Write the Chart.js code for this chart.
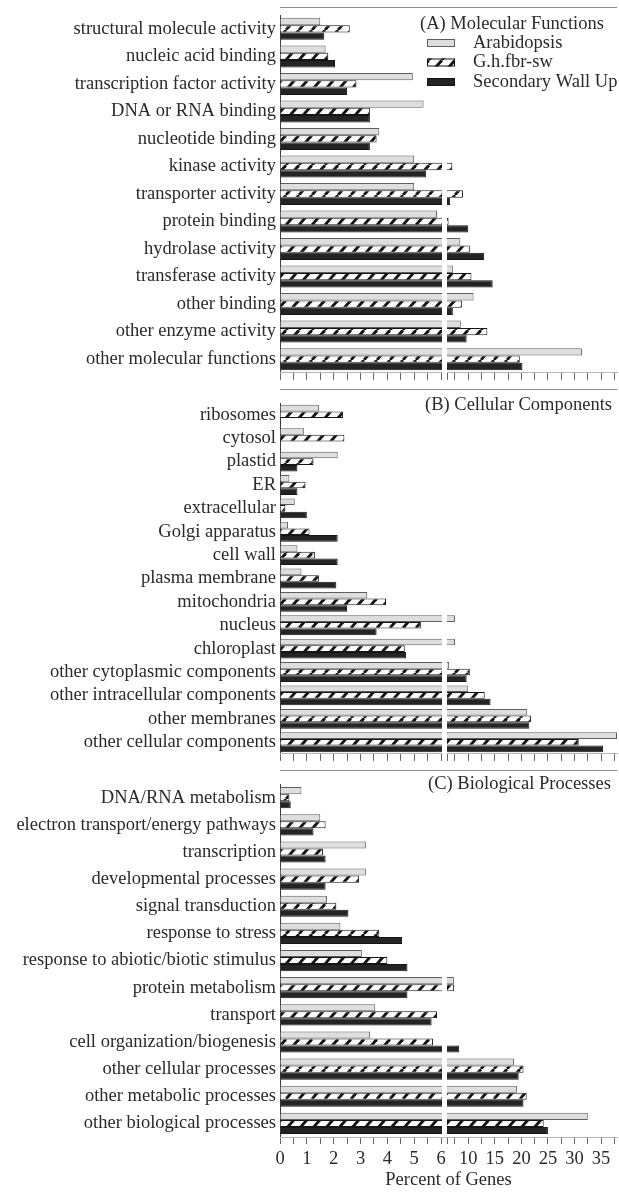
<!DOCTYPE html>
<html>
<head>
<meta charset="utf-8">
<script src="https://cdn.jsdelivr.net/npm/chart.js@4.4.1/dist/chart.umd.min.js"></script>
<style>
  html, body { margin: 0; padding: 0; background: #fff; }
  #wrap { position: relative; width: 619px; height: 1192px; overflow: hidden; }
  #wrap canvas { position: absolute; left: 0; }
</style>
</head>
<body>
<div id="wrap">
  <canvas id="panelA" width="619" height="388" style="top:0px"></canvas>
  <canvas id="panelB" width="619" height="381" style="top:388px"></canvas>
  <canvas id="panelC" width="619" height="423" style="top:769px"></canvas>
</div>
<script>
// ---- data: percent of genes per GO category ----
const seriesNames = ['Arabidopsis', 'G.h.fbr-sw', 'Secondary Wall Up'];

const molCats = ['structural molecule activity', 'nucleic acid binding', 'transcription factor activity',
  'DNA or RNA binding', 'nucleotide binding', 'kinase activity', 'transporter activity', 'protein binding',
  'hydrolase activity', 'transferase activity', 'other binding', 'other enzyme activity', 'other molecular functions'];
const molArab = [1.5, 1.7, 4.95, 5.35, 3.7, 5.0, 5.0, 5.85, 8.5, 7.1, 11.0, 8.6, 31.4];
const molGh   = [2.6, 1.8, 2.85, 3.35, 3.6, 7.0, 9.0, 6.3, 10.3, 10.6, 8.8, 13.6, 19.7];
const molSw   = [1.65, 2.05, 2.5, 3.35, 3.35, 5.45, 6.6, 10.0, 13.0, 14.6, 7.1, 9.7, 20.2];

const cellCats = ['ribosomes', 'cytosol', 'plastid', 'ER', 'extracellular', 'Golgi apparatus', 'cell wall',
  'plasma membrane', 'mitochondria', 'nucleus', 'chloroplast', 'other cytoplasmic components',
  'other intracellular components', 'other membranes', 'other cellular components'];
const cellArab = [1.45, 0.9, 2.15, 0.35, 0.55, 0.3, 0.65, 0.8, 3.25, 7.5, 7.5, 6.4, 10.0, 21.1, 38.0];
const cellGh   = [2.35, 2.4, 1.25, 0.95, 0.2, 1.1, 1.3, 1.45, 3.95, 5.25, 4.65, 10.3, 13.1, 21.8, 30.8];
const cellSw   = [0, 0, 0.65, 0.65, 1.0, 2.15, 2.15, 2.1, 2.5, 3.6, 4.7, 9.7, 14.2, 21.5, 35.4];

const bioCats = ['DNA/RNA metabolism', 'electron transport/energy pathways', 'transcription',
  'developmental processes', 'signal transduction', 'response to stress', 'response to abiotic/biotic stimulus',
  'protein metabolism', 'transport', 'cell organization/biogenesis', 'other cellular processes',
  'other metabolic processes', 'other biological processes'];
const bioArab = [0.8, 1.5, 3.2, 3.2, 1.75, 2.25, 3.05, 7.3, 3.55, 3.35, 18.6, 19.2, 32.5];
const bioGh   = [0.35, 1.7, 1.6, 2.95, 2.1, 3.7, 4.0, 7.3, 5.85, 5.7, 20.4, 21.0, 24.2];
const bioSw   = [0.4, 1.25, 1.7, 1.7, 2.55, 4.55, 4.75, 4.75, 5.65, 8.3, 19.5, 20.4, 25.0];

// ---- broken x axis: 0-6 on a wide segment, 6-38 on a compressed one ----
const BREAK_AT = 6;
const AXIS_MAX = 38;
const tickValues = [0, 1, 2, 3, 4, 5, 6, 10, 15, 20, 25, 30, 35];
const tickLabels = ['0', '1', '2', '3', '4', '5', '6', '10', '15', '20', '25', '30', '35'];
const minorTicks = [0.5, 1.5, 2.5, 3.5, 4.5, 5.5, 6.000001, 7.5, 12.5, 17.5, 22.5, 27.5, 32.5, 37.5];

const LEFT_FRAC = 161 / 337;  // share of the plot width used by 0..6
const GAP_FRAC = 6 / 337;     // white gap marking the break

class BrokenLinearScale extends Chart.LinearScale {
  buildTicks() {
    return tickValues.concat(minorTicks).sort((a, b) => a - b).map(v => ({ value: v }));
  }
  _segments() {
    const L = this.left, R = this.right, W = R - L;
    const b = L + W * LEFT_FRAC;
    const r = b + W * GAP_FRAC;
    return { L, b, r, R };
  }
  getPixelForValue(value) {
    const s = this._segments();
    const min = this.min, max = this.max;
    if (value <= BREAK_AT) return s.L + (value - min) / (BREAK_AT - min) * (s.b - s.L);
    return s.r + (value - BREAK_AT) / (max - BREAK_AT) * (s.R - s.r);
  }
  getValueForPixel(pixel) {
    const s = this._segments();
    if (pixel <= s.b) return this.min + (pixel - s.L) / (s.b - s.L) * (BREAK_AT - this.min);
    return BREAK_AT + (pixel - s.r) / (s.R - s.r) * (this.max - BREAK_AT);
  }
}
BrokenLinearScale.id = 'brokenLinear';
BrokenLinearScale.defaults = Chart.LinearScale.defaults;
Chart.register(BrokenLinearScale);

// ---- styles ----
const FONT_FAMILY = '"Liberation Serif", "Times New Roman", serif';
const FONT_SIZE = 18.5;
const TEXT_COLOR = '#2a2a2a';

function hatchPattern() {
  const c = document.createElement('canvas');
  c.width = 13; c.height = 15;
  const g = c.getContext('2d');
  g.fillStyle = '#ffffff';
  g.fillRect(0, 0, 13, 15);
  g.strokeStyle = '#151515';
  g.lineWidth = 2.8;
  for (const dx of [-13, 0, 13]) {
    g.beginPath(); g.moveTo(dx, 15); g.lineTo(dx + 13, 0); g.stroke();
  }
  return g.createPattern(c, 'repeat');
}
const HATCH = hatchPattern();
const seriesStyle = [
  { backgroundColor: '#dedede', borderColor: '#5e5e5e' },
  { backgroundColor: HATCH, borderColor: '#151515' },
  { backgroundColor: '#242424', borderColor: '#151515' }
];

// white gap, frame line, heading and (optional) legend for each panel
const panelDecor = {
  id: 'panelDecor',
  afterDatasetsDraw(chart, args, opts) {
    const { ctx, chartArea: a } = chart;
    const x = chart.scales.x;
    const b = x.getPixelForValue(BREAK_AT);
    const r = x.getPixelForValue(BREAK_AT + 1e-9);
    ctx.save();
    ctx.fillStyle = '#ffffff';
    ctx.fillRect(Math.round(b) + 1, a.top, Math.round(r) - Math.round(b) - 1, a.bottom - a.top);

    ctx.strokeStyle = '#8c8c8c';
    ctx.lineWidth = 1;
    ctx.beginPath();
    ctx.moveTo(a.left, opts.frameY + 0.5);
    ctx.lineTo(a.right, opts.frameY + 0.5);
    ctx.stroke();

    ctx.font = FONT_SIZE + 'px ' + FONT_FAMILY;
    ctx.fillStyle = TEXT_COLOR;
    ctx.textBaseline = 'middle';
    ctx.textAlign = 'left';
    ctx.fillText(opts.heading, a.left + opts.headX, opts.headY);

    if (opts.legend) {
      const lg = opts.legend;
      seriesNames.forEach((name, i) => {
        const cy = lg.y + i * lg.step;
        const sx = a.left + lg.x;
        ctx.fillStyle = seriesStyle[i].backgroundColor;
        ctx.fillRect(sx, cy - 4, 28, 8);
        ctx.strokeStyle = seriesStyle[i].borderColor;
        ctx.lineWidth = 1;
        ctx.strokeRect(sx + 0.5, cy - 3.5, 27, 7);
        ctx.fillStyle = TEXT_COLOR;
        ctx.fillText(name, sx + 46, cy);
      });
    }
    ctx.restore();
  }
};

function makePanel(id, cats, arab, gh, sw, cfg) {
  const values = [arab, gh, sw];
  const font = { family: FONT_FAMILY, size: FONT_SIZE };
  new Chart(document.getElementById(id), {
    type: 'bar',
    data: {
      labels: cats,
      datasets: values.map((vals, i) => ({
        label: seriesNames[i],
        data: vals,
        backgroundColor: seriesStyle[i].backgroundColor,
        borderColor: seriesStyle[i].borderColor,
        borderWidth: 1,
        borderSkipped: 'start',
        barPercentage: 1.0,
        categoryPercentage: cfg.catPct
      }))
    },
    options: {
      indexAxis: 'y',
      responsive: false,
      animation: false,
      devicePixelRatio: 1,
      layout: { padding: { top: cfg.padTop, bottom: cfg.padBottom, left: 0, right: 2 } },
      plugins: {
        legend: { display: false },
        tooltip: { enabled: false },
        panelDecor: cfg.decor
      },
      scales: {
        y: {
          type: 'category',
          grid: { display: false, drawTicks: false },
          border: { display: true, color: '#3c3c3c', width: 1 },
          ticks: { font, color: TEXT_COLOR, padding: 4, autoSkip: false },
          afterFit(scale) { scale.width = 280; }
        },
        x: {
          type: 'brokenLinear',
          min: 0,
          max: AXIS_MAX,
          grid: { drawOnChartArea: false, drawTicks: true, tickLength: 7, tickColor: '#666', tickWidth: 1 },
          border: { display: true, color: '#b4b4b4', width: 1 },
          ticks: {
            display: cfg.showAxis,
            autoSkip: false,
            maxRotation: 0,
            minRotation: 0,
            padding: 4,
            font,
            color: TEXT_COLOR,
            callback(value) {
              const i = tickValues.indexOf(value);
              return i >= 0 ? tickLabels[i] : '';
            }
          },
          title: {
            display: cfg.showAxis,
            text: 'Percent of Genes',
            font,
            color: TEXT_COLOR,
            padding: { top: 0, bottom: 1 }
          },
          afterFit(scale) { if (cfg.axisHeight) scale.height = cfg.axisHeight; }
        }
      }
    },
    plugins: [panelDecor]
  });
}

makePanel('panelA', molCats, molArab, molGh, molSw, {
  catPct: 0.8, padTop: 9, padBottom: 4, showAxis: false,
  decor: { frameY: 7, heading: '(A) Molecular Functions', headX: 140, headY: 24,
           legend: { x: 147, y: 43, step: 19.5 } }
});
makePanel('panelB', cellCats, cellArab, cellGh, cellSw, {
  catPct: 0.85, padTop: 11, padBottom: 3, showAxis: false,
  decor: { frameY: 1, heading: '(B) Cellular Components', headX: 145, headY: 17 }
});
makePanel('panelC', bioCats, bioArab, bioGh, bioSw, {
  catPct: 0.78, padTop: 3, padBottom: 0, showAxis: true, axisHeight: 55,
  decor: { frameY: 1, heading: '(C) Biological Processes', headX: 148, headY: 15 }
});
</script>
</body>
</html>
